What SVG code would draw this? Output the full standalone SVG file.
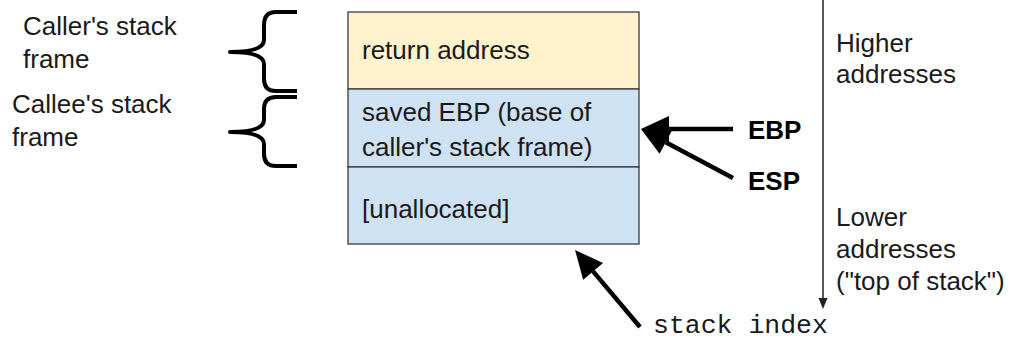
<svg xmlns="http://www.w3.org/2000/svg" width="1016" height="341" viewBox="0 0 1016 341">
  <defs>
    <style>
      .lbl { font-family: "Liberation Sans", Arial, sans-serif; font-size: 26px; fill: #1a1a1a; }
      .reg { font-family: "Liberation Sans", Arial, sans-serif; font-size: 26px; font-weight: bold; fill: #000; }
      .mono { font-family: "Liberation Mono", "Courier New", monospace; font-size: 26.5px; fill: #1a1a1a; }
      .cell { stroke: #3a3a3a; stroke-width: 1.3; }
      .brace { fill: none; stroke: #000; stroke-width: 4; stroke-linecap: butt; stroke-linejoin: round; }
      .ptr { stroke: #000; stroke-width: 4.5; fill: none; }
      .axis { stroke: #222; stroke-width: 1.5; fill: none; }
    </style>
    <!-- heavy arrowhead: base sits on the line end, tip extends forward -->
    <marker id="head" markerUnits="userSpaceOnUse" markerWidth="30" markerHeight="28" refX="0" refY="13" orient="auto" overflow="visible">
      <path d="M0,0 L28,13 L0,26 Z" fill="#000"/>
    </marker>
    <marker id="thin" markerUnits="userSpaceOnUse" markerWidth="12" markerHeight="10" refX="0" refY="4.5" orient="auto" overflow="visible">
      <path d="M0,0 L11,4.5 L0,9 Z" fill="#222"/>
    </marker>
  </defs>

  <!-- stack cells -->
  <g id="cell-return">
    <rect class="cell" x="348" y="12" width="291" height="77" fill="#fff2cc"/>
    <text class="lbl" x="362" y="59">return address</text>
  </g>
  <g id="cell-saved-ebp">
    <rect class="cell" x="348" y="89" width="291" height="78" fill="#cfe2f3"/>
    <text class="lbl" x="362" y="121">saved EBP (base of</text>
    <text class="lbl" x="362" y="156">caller's stack frame)</text>
  </g>
  <g id="cell-unallocated">
    <rect class="cell" x="348" y="167" width="291" height="77" fill="#cfe2f3"/>
    <text class="lbl" x="362" y="218">[unallocated]</text>
  </g>

  <!-- frame braces and labels -->
  <g id="caller-frame">
    <path class="brace" d="M297,12 L276,12 Q264,12 264,25 L264,40 Q264,52 230,52 Q264,52 264,64 L264,79 Q264,91 276,91 L297,91"/>
    <text class="lbl" x="23" y="35">Caller's stack</text>
    <text class="lbl" x="23" y="68">frame</text>
  </g>
  <g id="callee-frame">
    <path class="brace" d="M297,97 L276,97 Q264,97 264,109 L264,120 Q264,132 230,132 Q264,132 264,144 L264,154 Q264,166 276,166 L297,166"/>
    <text class="lbl" x="12" y="113">Callee's stack</text>
    <text class="lbl" x="12" y="146">frame</text>
  </g>

  <!-- register labels -->
  <g id="ebp">
    <text class="reg" x="748" y="139">EBP</text>
  </g>
  <g id="esp">
    <text class="reg" x="748" y="190">ESP</text>
  </g>
  <g id="stack-index">
    <text class="mono" x="653" y="333">stack index</text>
  </g>

  <!-- address direction -->
  <g id="addresses">
    <text class="lbl" x="836" y="52">Higher</text>
    <text class="lbl" x="836" y="83">addresses</text>
    <text class="lbl" x="836" y="226">Lower</text>
    <text class="lbl" x="836" y="258">addresses</text>
    <text class="lbl" x="836" y="290">("top of stack")</text>
  </g>

  <!-- connectors -->
  <g id="connectors">
    <line class="ptr" x1="733" y1="129" x2="669" y2="129" marker-end="url(#head)"/>
    <line class="ptr" x1="733" y1="178" x2="665.7" y2="142.2" marker-end="url(#head)"/>
    <line class="ptr" x1="640" y1="327" x2="593.1" y2="271.4" marker-end="url(#head)"/>
    <line class="axis" x1="823" y1="0" x2="823" y2="298" marker-end="url(#thin)"/>
  </g>
</svg>
